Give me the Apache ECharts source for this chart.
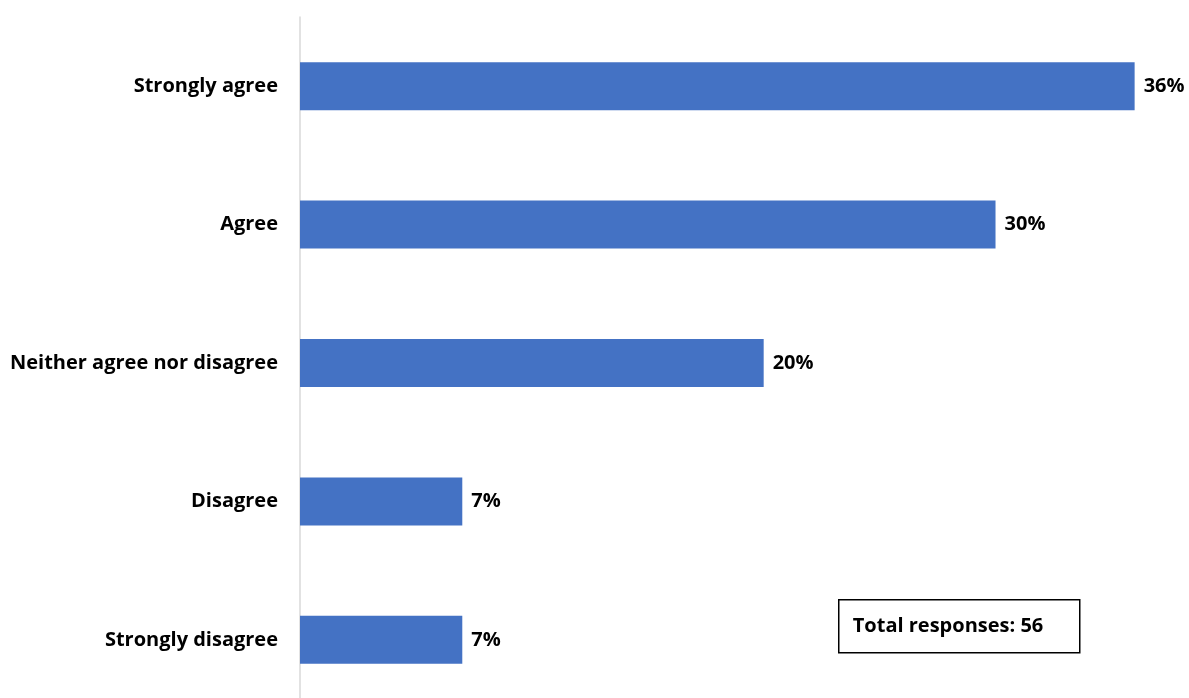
<!DOCTYPE html>
<html>
<head>
<meta charset="utf-8">
<script src="https://cdn.jsdelivr.net/npm/echarts@6/dist/echarts.min.js"></script>
<style>
  html, body { margin: 0; padding: 0; background: #fff; }
  #chart { width: 1189px; height: 698px; }
</style>
</head>
<body>
<div id="chart"></div>
<script>
// Survey responses (top to bottom)
const categories = ['Strongly agree', 'Agree', 'Neither agree nor disagree', 'Disagree', 'Strongly disagree'];
const percentages = [36, 30, 20, 7, 7];
const totalResponses = 56;

const FONT = '"Open Sans", "Liberation Sans", sans-serif';

const chart = echarts.init(document.getElementById('chart'), null, { renderer: 'canvas' });

chart.setOption({
  backgroundColor: '#ffffff',
  animation: false,
  grid: {
    left: 300, top: 17, width: 932, height: 692,
    containLabel: false,
    outerBoundsMode: 'none'
  },
  xAxis: {
    type: 'value',
    min: 0,
    max: 40.2,
    show: false
  },
  yAxis: {
    type: 'category',
    data: categories,
    inverse: true,
    axisLine: { show: true, lineStyle: { color: '#d9d9d9', width: 1.5 } },
    axisTick: { show: false },
    splitLine: { show: false },
    axisLabel: {
      margin: 22,
      color: '#000000',
      fontFamily: FONT,
      fontWeight: 'bold',
      fontSize: 20
    }
  },
  series: [{
    type: 'bar',
    data: percentages,
    barWidth: 48,
    itemStyle: { color: '#4472C4' },
    label: {
      show: true,
      position: 'right',
      distance: 9,
      color: '#000000',
      fontFamily: FONT,
      fontWeight: 'bold',
      fontSize: 20,
      formatter: p => p.value + '%'
    }
  }],
  graphic: [{
    type: 'group',
    left: 838,
    top: 599,
    children: [{
      type: 'rect',
      shape: { x: 0, y: 0, width: 241, height: 53 },
      style: { fill: '#ffffff', stroke: '#000000', lineWidth: 1.5 }
    }, {
      type: 'text',
      x: 14,
      y: 26.5,
      style: {
        text: 'Total responses: ' + totalResponses,
        fill: '#000000',
        font: 'bold 20px ' + FONT,
        verticalAlign: 'middle'
      }
    }]
  }]
});
</script>
</body>
</html>
